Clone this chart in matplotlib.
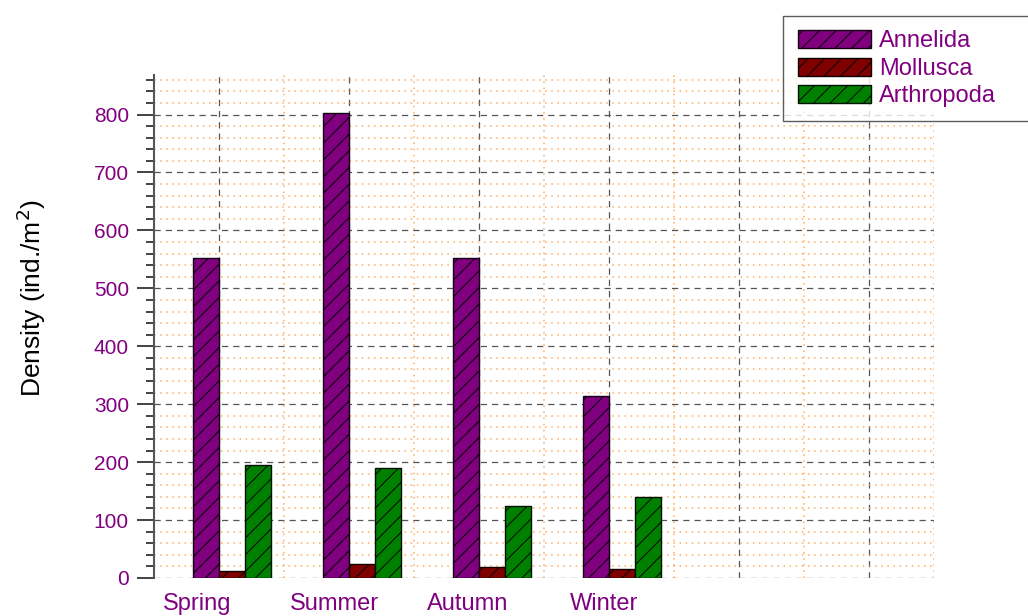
import matplotlib.pyplot as plt
from matplotlib.ticker import MultipleLocator
import numpy as np

plt.rcParams['font.family'] = ['Liberation Sans', 'DejaVu Sans']
plt.rcParams['hatch.linewidth'] = 0.8

seasons = ["Spring", "Summer", "Autumn", "Winter"]
annelida = [552, 802, 552, 314]
mollusca = [12, 24, 19, 16]
arthropoda = [195, 190, 124, 140]

purple = '#800080'
fig = plt.figure(figsize=(10.28, 6.16), dpi=100)
ax = fig.add_axes([0.1498, 0.0617, 0.7588, 0.8163])

x = np.arange(len(seasons))
w = 0.2
ax.bar(x - 0.1, annelida, w, color='#800080', edgecolor='#100010', linewidth=1,
       hatch='//', label='Annelida', zorder=3)
ax.bar(x + 0.1, mollusca, w, color='#800000', edgecolor='#100000', linewidth=1,
       hatch='//', label='Mollusca', zorder=3)
ax.bar(x + 0.3, arthropoda, w, color='#008000', edgecolor='#001000', linewidth=1,
       hatch='//', label='Arthropoda', zorder=3)

ax.set_xlim(-0.5, 5.5)
ax.set_ylim(0, 868)
ax.xaxis.set_major_locator(MultipleLocator(1))
ax.xaxis.set_minor_locator(MultipleLocator(0.5))
ax.yaxis.set_major_locator(MultipleLocator(100))
ax.yaxis.set_minor_locator(MultipleLocator(20))

ax.grid(which='major', color='#555555', linestyle=(0, (5, 4)), linewidth=0.9, zorder=1)
ax.grid(which='minor', color='#ff9933', linestyle=(0, (1, 3)), linewidth=1.1, alpha=0.8, zorder=0)

for s in ['top', 'right', 'bottom']:
    ax.spines[s].set_visible(False)
ax.spines['left'].set_color('#555555')
ax.spines['left'].set_linewidth(1.5)

ax.tick_params(axis='x', which='both', length=0, labelbottom=False)
ax.tick_params(axis='y', which='major', length=12, width=1.2, color='#222222',
               labelsize=15, labelcolor=purple, pad=6)
ax.tick_params(axis='y', which='minor', length=6, width=1.2, color='#222222')

# category labels under each group
label_x = [-0.17, 0.89, 1.915, 2.96]
for lx, name in zip(label_x, seasons):
    ax.text(lx, -0.052, name, transform=ax.get_xaxis_transform(), ha='center', va='center',
            fontsize=17, color=purple)

fig.text(0.03, 0.516, 'Density (ind./m$^2$)', rotation=90, ha='center', va='center',
         fontsize=19)

leg = fig.legend(loc='upper left', bbox_to_anchor=(0.762, 0.8, 0.3, 0.174), mode='expand',
                 fontsize=17, frameon=True, fancybox=False, handlelength=3.1, handleheight=0.8,
                 handletextpad=0.35, labelspacing=0.22, borderpad=0.6, borderaxespad=0)
leg.get_frame().set_edgecolor('#333333')
leg.get_frame().set_linewidth(1.0)
for t in leg.get_texts():
    t.set_color(purple)

fig.savefig('out.png', dpi=100)
